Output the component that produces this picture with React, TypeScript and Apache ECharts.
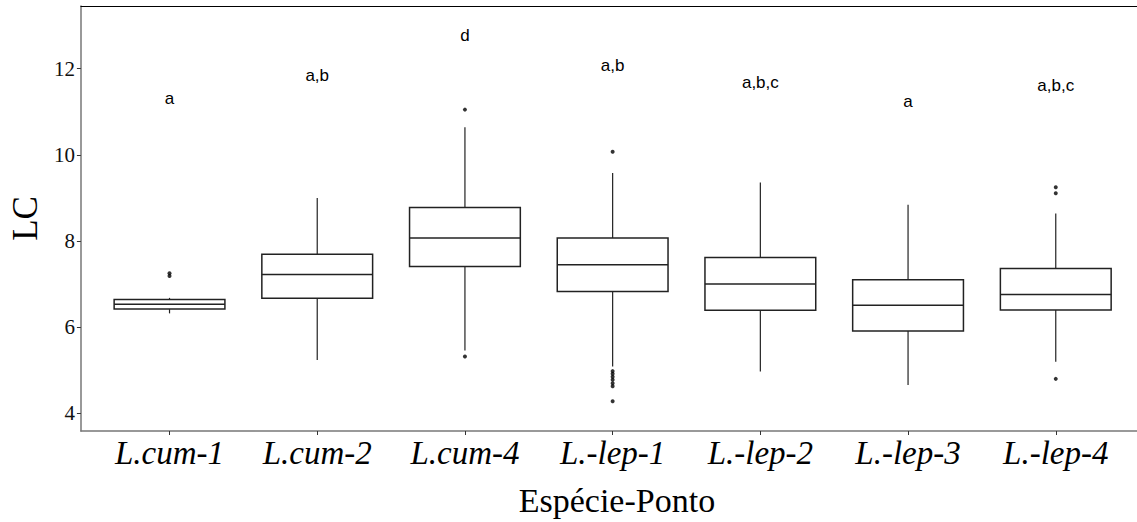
import React, { useEffect, useRef } from "react";
import * as echarts from "echarts";

const categories = ["L.cum-1", "L.cum-2", "L.cum-4", "L.-lep-1", "L.-lep-2", "L.-lep-3", "L.-lep-4"];
const whiskerLow = [6.32, 5.24, 5.46, 5.09, 4.97, 4.66, 5.2];
const q1 = [6.42, 6.67, 7.41, 6.83, 6.39, 5.91, 6.4];
const median = [6.53, 7.22, 8.07, 7.45, 7.0, 6.51, 6.76];
const q3 = [6.64, 7.69, 8.78, 8.07, 7.62, 7.1, 7.36];
const whiskerHigh = [6.68, 9.0, 10.64, 9.58, 9.36, 8.84, 8.64];
const outliers: number[][] = [
  [7.25, 7.19],
  [],
  [11.05, 5.32],
  [10.07, 4.98, 4.92, 4.85, 4.78, 4.7, 4.63, 4.28],
  [],
  [],
  [9.25, 9.11, 4.8],
];
const letters = ["a", "a,b", "d", "a,b", "a,b,c", "a", "a,b,c"];
const letterY = [11.3, 11.85, 12.77, 12.08, 11.67, 11.23, 11.6];
const yTicks = [4, 6, 8, 10, 12];
const xTicks = categories.map((_, i) => i);

const X_MIN = -0.6;
const X_MAX = 6.55;
const Y_MIN = 3.59;
const Y_MAX = 13.455;

export default function App() {
  const ref = useRef<HTMLDivElement>(null);

  useEffect(() => {
    if (!ref.current) return;
    const chart = echarts.init(ref.current, undefined, { renderer: "svg" });

    const boxData = categories.map((_, i) => [i, whiskerLow[i], q1[i], median[i], q3[i], whiskerHigh[i]]);
    const outlierData = outliers.flatMap((arr, i) => arr.map((v) => [i, v]));
    const letterData = letters.map((_, i) => [i, letterY[i]]);

    const option: any = {
      animation: false,
      backgroundColor: "#fff",
      grid: { left: 70, right: 0, top: 6, bottom: 89, containLabel: false },
      xAxis: [
        {
          type: "value",
          min: X_MIN,
          max: X_MAX,
          position: "bottom",
          axisLine: { show: true, onZero: false, lineStyle: { color: "#777", width: 1.5 } },
          axisTick: { show: true, customValues: xTicks, length: 4, lineStyle: { color: "#333", width: 1 } },
          axisLabel: {
            customValues: xTicks,
            formatter: (v: number) => categories[Math.round(v)] ?? "",
            fontFamily: "Liberation Serif",
            fontStyle: "italic",
            fontSize: 33,
            color: "#000",
            margin: 5,
          },
          splitLine: { show: false },
          name: "Espécie-Ponto",
          nameLocation: "middle",
          nameGap: 52,
          nameTextStyle: {
            fontFamily: "Liberation Serif",
            fontSize: 34,
            color: "#000",
            padding: [0, 0, 0, 16],
          },
        },
        {
          type: "value",
          min: X_MIN,
          max: X_MAX,
          position: "top",
          axisLine: { show: true, onZero: false, lineStyle: { color: "#000", width: 1 } },
          axisTick: { show: false },
          axisLabel: { show: false },
          splitLine: { show: false },
        },
      ],
      yAxis: {
        type: "value",
        min: Y_MIN,
        max: Y_MAX,
        axisLine: { show: true, onZero: false, lineStyle: { color: "#777", width: 1.5 } },
        axisTick: { show: true, customValues: yTicks, length: 4, lineStyle: { color: "#333", width: 1 } },
        axisLabel: {
          customValues: yTicks,
          fontFamily: "Liberation Serif",
          fontSize: 21,
          color: "#111",
          margin: 6,
        },
        splitLine: { show: false },
        name: "LC",
        nameLocation: "middle",
        nameGap: 29,
        nameTextStyle: { fontFamily: "Liberation Serif", fontSize: 35, color: "#000" },
      },
      series: [
        {
          type: "custom",
          xAxisIndex: 0,
          yAxisIndex: 0,
          data: boxData,
          encode: { x: 0, y: [1, 2, 3, 4, 5] },
          renderItem: (params: any, api: any) => {
            const x = api.value(0);
            const pLo = api.coord([x, api.value(1)]);
            const pA = api.coord([x, api.value(2)]);
            const pM = api.coord([x, api.value(3)]);
            const pB = api.coord([x, api.value(4)]);
            const pHi = api.coord([x, api.value(5)]);
            const half = api.size([0.75, 0])[0] / 2;
            const cx = pM[0];
            const stroke = "#222";
            return {
              type: "group",
              children: [
                { type: "line", shape: { x1: cx, y1: pHi[1], x2: cx, y2: pB[1] }, style: { stroke, lineWidth: 1.2 } },
                { type: "line", shape: { x1: cx, y1: pA[1], x2: cx, y2: pLo[1] }, style: { stroke, lineWidth: 1.2 } },
                {
                  type: "rect",
                  shape: { x: cx - half, y: pB[1], width: half * 2, height: pA[1] - pB[1] },
                  style: { fill: "#fff", stroke, lineWidth: 1.5 },
                },
                { type: "line", shape: { x1: cx - half, y1: pM[1], x2: cx + half, y2: pM[1] }, style: { stroke, lineWidth: 1.5 } },
              ],
            };
          },
          z: 2,
        },
        {
          type: "scatter",
          xAxisIndex: 0,
          yAxisIndex: 0,
          data: outlierData,
          symbol: "circle",
          symbolSize: 4,
          itemStyle: { color: "#000" },
          z: 3,
        },
        {
          type: "custom",
          xAxisIndex: 0,
          yAxisIndex: 0,
          data: letterData,
          encode: { x: 0, y: 1 },
          renderItem: (params: any, api: any) => {
            const p = api.coord([api.value(0), api.value(1)]);
            return {
              type: "text",
              x: p[0],
              y: p[1],
              style: {
                text: letters[params.dataIndex],
                align: "center",
                verticalAlign: "middle",
                fontFamily: "Liberation Sans",
                fontSize: 17,
                fill: "#000",
              },
            };
          },
          z: 4,
        },
      ],
    };

    chart.setOption(option);
    return () => chart.dispose();
  }, []);

  return (
    <div
      ref={ref}
      style={{ position: "fixed", left: 0, top: 0, width: 1137, height: 522, background: "#fff" }}
    />
  );
}
